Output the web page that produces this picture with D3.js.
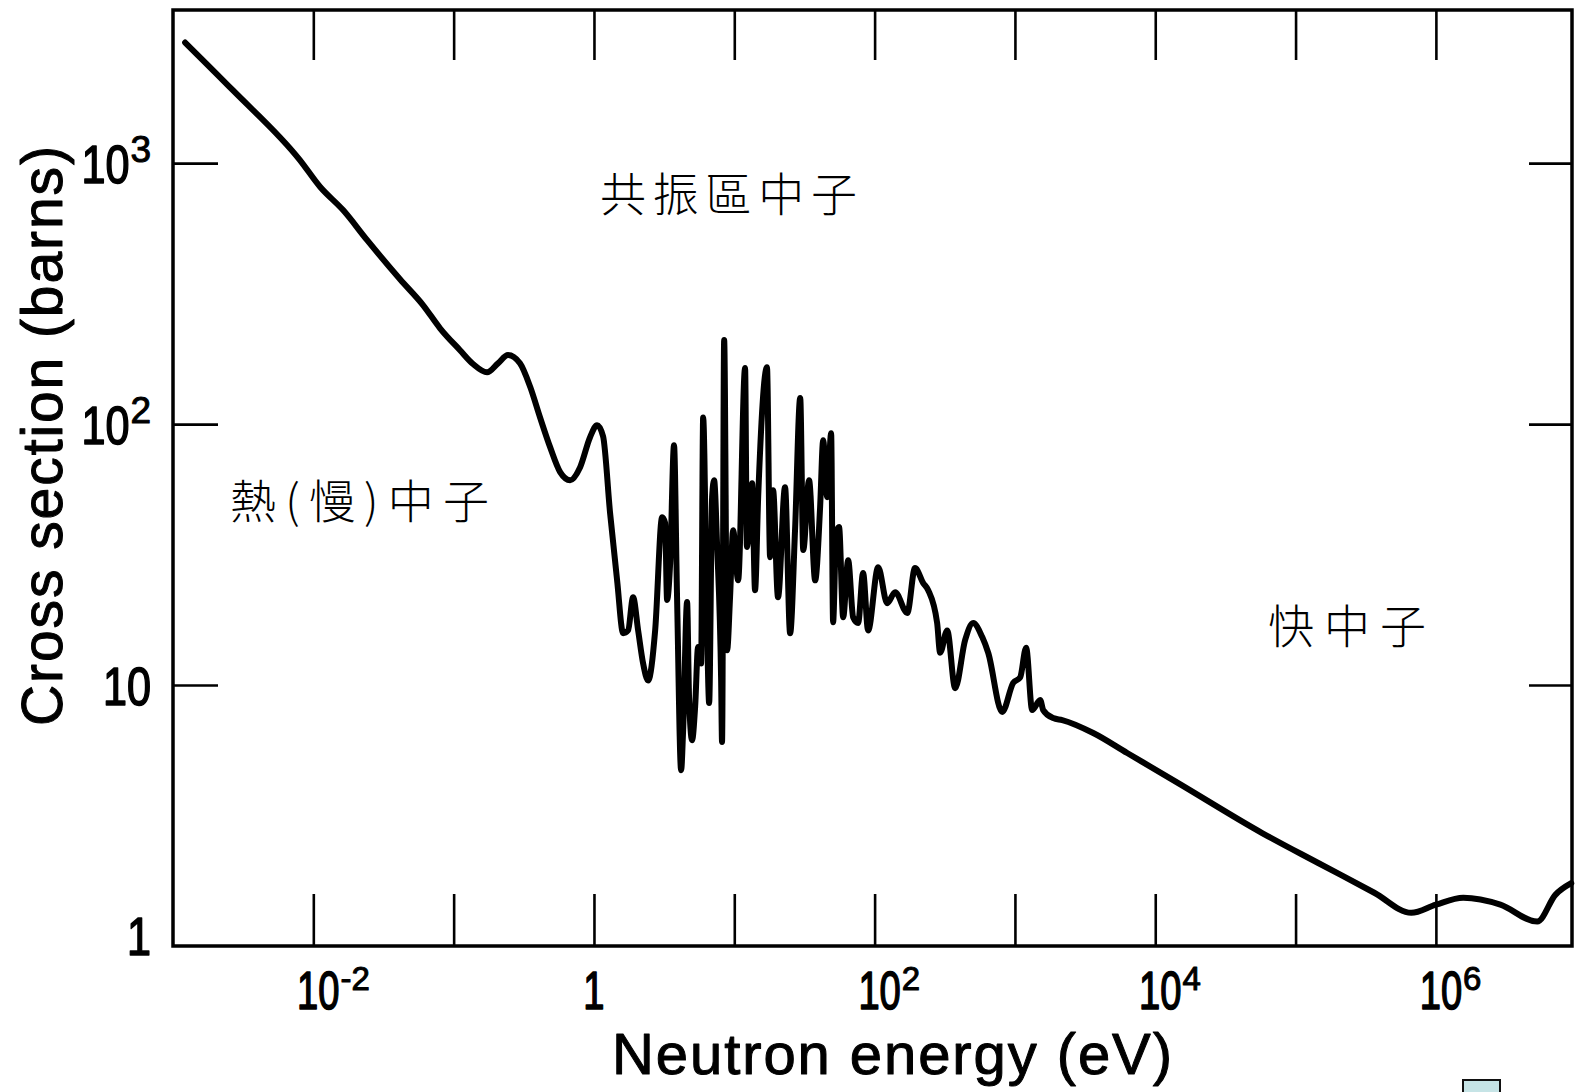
<!DOCTYPE html>
<html><head><meta charset="utf-8">
<script src="https://cdn.jsdelivr.net/npm/d3@7"></script>
<style>body{margin:0;background:#fff;overflow:hidden}</style>
</head><body>
<svg id="c" width="1580" height="1092"></svg>
<script>
// ---- data ----
const energy = [0.00122,0.00268,0.0080,0.0112,0.0163,0.0242,0.0415,0.0605,0.080,0.111,0.1375,0.173,0.207,0.244,0.297,0.351,0.413,0.487,0.574,0.676,0.797,0.938,1.052,1.161,1.303,1.462,1.614,1.751,1.901,2.064,2.240,2.432,2.729,3.062,3.215,3.32,3.49,3.72,3.91,4.18,4.32,4.61,4.76,5.00,5.26,5.52,5.80,6.00,6.40,6.62,6.95,7.18,7.55,8.06,8.18,8.47,8.89,9.33,9.81,10.65,11.94,12.3,13.4,14.06,14.8,17.1,18.0,18.9,20.5,23.0,25.0,27.1,29.5,31.0,34.1,37.7,40.9,43.0,45.9,49.0,50.6,53.2,55.8,59.7,64.8,70.3,76.3,82.8,89.9,106,123,140,171,194,222,241,279,293,329,375,442,504,584,645,811,972,1090,1202,1327,1514,1590,1874,2173,3614,6310,14580,57800,145000,364000,668000,1.0e6,1.567e6,2.88e6,5.28e6,7.10e6,9.22e6];
const crossSection = [2900,1900,1030,810,661,507,359,286,233,192,170,158,171,184,171,139,106,81.6,65.5,61.0,68.4,89.1,99.1,89.9,45.6,25.2,15.8,16.2,21.7,16.2,12.1,10.4,16.2,44.0,41.8,21.2,29.3,83.0,21.7,4.72,6.72,20.8,8.99,6.15,8.24,14.0,12.1,106,16.2,8.53,52.5,61.0,33.8,10.4,6.05,210,13.6,21.7,39.2,25.2,164,33.8,59.4,23.1,52.5,165,30.9,55.8,21.7,57.3,15.8,39.2,126,32.9,61.0,25.2,48.1,86.8,52.5,92.3,17.4,38.2,40.3,18.2,30.1,18.2,17.3,26.9,16.2,28.3,20.6,22.7,18.9,28.1,24.6,23.1,17.3,13.3,16.2,9.73,14.9,17.3,15.3,13.3,7.88,10.2,10.7,13.9,8.02,8.76,8.02,7.47,7.34,6.55,5.49,4.21,2.71,2.08,1.60,1.34,1.44,1.53,1.44,1.24,1.57,1.74];
const xTickValues = [1e-2,1e-1,1,10,1e2,1e3,1e4,1e5,1e6];
const yTickValues = [10,100,1000];
const xTickLabels = [{v:1e-2,base:"10",sup:"-2"},{v:1,base:"1",sup:""},{v:1e2,base:"10",sup:"2"},{v:1e4,base:"10",sup:"4"},{v:1e6,base:"10",sup:"6"}];
const yTickLabels = [{v:1000,base:"10",sup:"3"},{v:100,base:"10",sup:"2"},{v:10,base:"10",sup:""},{v:1,base:"1",sup:""}];
const xTitle = "Neutron energy (eV)";
const yTitle = "Cross section (barns)";
const regionNames = ["共振區中子","熱(慢)中子","快中子"];

// ---- layout ----
const W=1580,H=1092;
const M={left:173,right:1572,top:10,bottom:946};
const FONT="'Liberation Sans', Arial, Helvetica, sans-serif";
const CJK="'Noto Sans CJK TC','Noto Sans CJK SC',sans-serif";
const x=d3.scaleLog().domain([1e-3,Math.pow(10,6.97)]).range([M.left,M.right]);
const y=d3.scaleLog().domain([1,Math.pow(10,3.587)]).range([M.bottom,M.top]);
const svg=d3.select("#c");
svg.append("rect").attr("width",W).attr("height",H).attr("fill","#fff");

function axisStyle(g){
  g.select(".domain").remove();
  g.selectAll(".tick line").attr("stroke","#000").attr("stroke-width",2.6);
  g.selectAll(".tick text").remove();
}
svg.append("g").attr("transform",`translate(0,${M.bottom})`)
  .call(d3.axisBottom(x).tickValues(xTickValues).tickSize(-52).tickFormat("")).call(axisStyle);
svg.append("g").attr("transform",`translate(0,${M.top})`)
  .call(d3.axisTop(x).tickValues(xTickValues).tickSize(-50).tickFormat("")).call(axisStyle);
svg.append("g").attr("transform",`translate(${M.left},0)`)
  .call(d3.axisLeft(y).tickValues(yTickValues).tickSize(-45).tickFormat("")).call(axisStyle);
svg.append("g").attr("transform",`translate(${M.right},0)`)
  .call(d3.axisRight(y).tickValues(yTickValues).tickSize(-43).tickFormat("")).call(axisStyle);

svg.append("rect").attr("x",M.left).attr("y",M.top)
  .attr("width",M.right-M.left).attr("height",M.bottom-M.top)
  .attr("fill","none").attr("stroke","#000").attr("stroke-width",3.5);

// curve
const data = energy.map((e,i)=>({e, s:crossSection[i]}));
svg.append("path").datum(data)
  .attr("fill","none").attr("stroke","#000").attr("stroke-width",6)
  .attr("stroke-linejoin","round").attr("stroke-linecap","round")
  .attr("d", d3.line().x(d=>x(d.e)).y(d=>y(d.s)).curve(d3.curveMonotoneX));

function bold(t, w){ return t.attr("stroke","#000").attr("stroke-width",w).attr("stroke-linejoin","round"); }

// x tick labels (condensed digits)
const XSX=0.72;
xTickLabels.forEach(l=>{
  const cx = x(l.v) + (l.sup ? 5 : 0);
  const g = svg.append("g").attr("transform",`translate(${cx},1009) scale(${XSX},1)`);
  const t = bold(g.append("text").attr("text-anchor","middle")
    .attr("font-family",FONT).attr("font-size",53).text(l.base), 1.6);
  if(l.sup){
    const w = t.node().getComputedTextLength()*XSX;
    bold(svg.append("text").attr("x",cx+w/2+1).attr("y",990)
      .attr("font-family",FONT).attr("font-size",33).text(l.sup), 1);
  }
});
// y tick labels
const YSX=0.8;
yTickLabels.forEach(l=>{
  const yy = Math.min(y(l.v), M.bottom-11);
  let right = 151;
  if(l.sup){
    const s = bold(svg.append("text").attr("x",151).attr("y",yy-1).attr("text-anchor","end")
      .attr("font-family",FONT).attr("font-size",37).text(l.sup), 1);
    right = 151 - s.node().getComputedTextLength() - 1;
  }
  bold(svg.append("g").attr("transform",`translate(${right},${yy+20}) scale(${YSX},1)`)
    .append("text").attr("text-anchor","end")
    .attr("font-family",FONT).attr("font-size",54).text(l.base), 1.6);
});

// axis titles
bold(svg.append("text").attr("x",612).attr("y",1074).attr("font-family",FONT).attr("font-size",58)
  .attr("textLength",560).attr("lengthAdjust","spacing").text(xTitle), 1);
bold(svg.append("text").attr("transform","translate(62,436) rotate(-90)").attr("text-anchor","middle")
  .attr("font-family",FONT).attr("font-size",57)
  .attr("textLength",580).attr("lengthAdjust","spacing").text(yTitle), 1);

// region names
const regionPos = [[600,211,257],[230,518,259],[1268,643,158]];
regionNames.forEach((s,i)=>{
  const p = regionPos[i];
  svg.append("text").attr("x",p[0]).attr("y",p[1]).attr("font-family",CJK).attr("font-size",46)
    .attr("font-weight",300).attr("textLength",p[2]).attr("lengthAdjust","spacing").text(s);
});

// small box at bottom right
svg.append("rect").attr("x",1463).attr("y",1080).attr("width",37).attr("height",20)
  .attr("fill","#c6e4e6").attr("stroke","#111").attr("stroke-width",2);
</script>
</body></html>
